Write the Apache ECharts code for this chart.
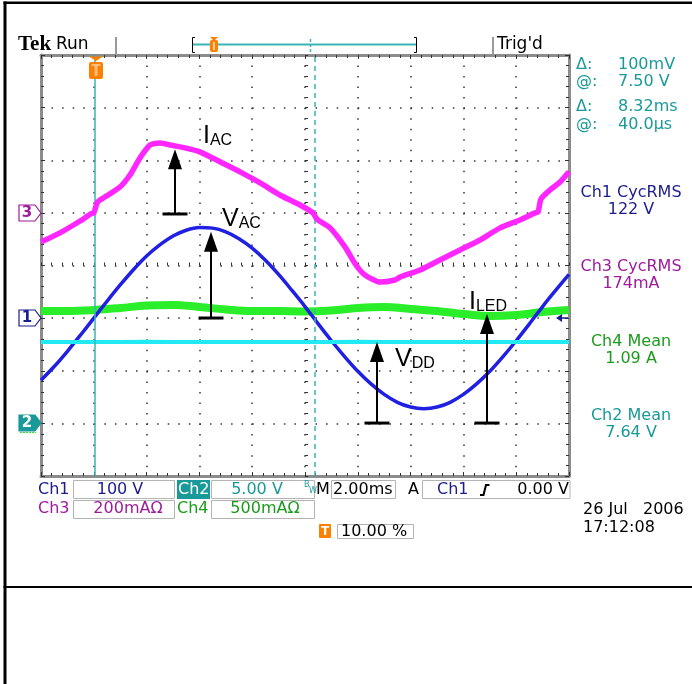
<!DOCTYPE html>
<html><head><meta charset="utf-8">
<script src="https://cdn.jsdelivr.net/npm/echarts@6/dist/echarts.min.js"></script>
<style>html,body{margin:0;padding:0;background:#fff}#c{width:692px;height:684px}</style>
</head><body><div id="c"></div>
<script>
// ---------- data (time in ms relative to trigger) ----------
const vacTime = [-2,-1.5,-1,-0.5,0,0.5,1,1.5,2,2.5,3,3.5,4,4.5,5,5.5,6,6.5,7,7.5,8,8.5,9,9.5,10,10.5,11,11.5,12,12.5,13,13.5,14,14.5,15,15.5,16,16.5,17,17.5,18];
const vacVolts = [-118,-92,-63,-32,0,32,63,92,118,139,156,167,172,171,164,151,133,110,83,53,22,-11,-43,-73,-101,-125,-145,-160,-169,-172,-169,-160,-145,-125,-101,-73,-43,-11,22,53,83];

const iacTime = [-2.00,-1.28,-0.52,-0.10,0.00,0.15,0.54,0.99,1.37,1.75,2.13,2.51,2.89,3.45,4.02,4.78,5.54,6.30,7.05,7.81,8.30,8.42,8.49,8.95,9.52,9.93,10.27,10.84,11.41,11.60,12.36,13.11,13.87,14.63,15.39,16.14,16.71,16.83,16.94,17.28,17.66,18.00];
const iacMilliamps = [-111,-76,-31,-3,0,42,68,98,144,209,258,266,258,247,232,194,156,114,68,30,0,-19,-27,-57,-130,-198,-236,-263,-255,-244,-217,-179,-141,-103,-57,-27,0,4,53,87,117,156];

const dcTime = [-2,-1,0,1,2,3,4,5,6,7,8,9,10,11,12,13,14,15,16,17,18];
const iledAmps = [1.068,1.068,1.077,1.096,1.120,1.125,1.106,1.082,1.068,1.068,1.063,1.072,1.096,1.106,1.087,1.068,1.039,1.020,1.030,1.058,1.077];
const vddVolts = [7.72,7.74,7.73,7.72,7.75,7.73,7.72,7.74,7.73,7.72,7.74,7.73,7.75,7.72,7.73,7.74,7.72,7.73,7.74,7.73,7.72];

const cursorTimes = [0.04, 8.36];

// channel settings: units per division, ground position (divisions from screen centre)
const ch1Scale = 100, ch1Pos = -1;   // V/div
const ch2Scale = 5,   ch2Pos = -3;   // V/div
const ch3Scale = 200, ch3Pos = 1;    // mA/div
const ch4Scale = 0.5, ch4Pos = -3;   // A/div

// annotation arrows (time ms, screen divisions)
const annTime   = [3.076, 4.439, 10.727, 14.894];
const annBase   = [0.979, -0.998, -2.994, -2.994];
const annTip    = [2.21, 0.643, -1.454, -0.922];
const annMain   = ['I','V','V','I'];
const annSub    = ['AC','AC','DD','LED'];
const annLabelT = [4.136, 4.856, 11.41, 14.21];
const annLabelY = [2.319, 0.732, -1.93, -0.846];

// ---------- build ----------
const toDiv = (times, vals, scale, pos) => times.map((t,i)=>[t, vals[i]/scale + pos]);

const NAVY='#1c1c8e', PURPLE='#9c1c9c', GREEN='#1c9c1c', TEAL='#1a9999', ORANGE='#ff7f00';
const F = 'DejaVu Sans';

function txt(x,y,text,color,o){
  o=o||{};
  return {type:'text', x:x, y:y, z:50, style:{text:text, fill:color, font:(o.weight||'normal')+' '+(o.size||16)+'px '+(o.family?('"'+o.family+'"'):('"'+F+'"')), textAlign:o.align||'left', textVerticalAlign:'middle', verticalAlign:'middle'}};
}
function box(x,y,w,h){ return {type:'rect', z:40, shape:{x:x,y:y,width:w,height:h}, style:{fill:'none', stroke:'#b4b4b4', lineWidth:1}}; }
function rect(x,y,w,h,fill,r){ return {type:'rect', z:40, shape:{x:x,y:y,width:w,height:h,r:r||0}, style:{fill:fill}}; }
function chMarker(y,label,color,filled){
  return [
    {type:'polygon', z:45, shape:{points:[[19,y-8],[35,y-8],[41,y],[35,y+8],[19,y+8]]}, style:{fill:filled?color:'#fff', stroke:color, lineWidth:1.2}},
    txt(27,y+0.5,label,filled?'#fff':color,{size:15,weight:'bold',align:'center'})
  ];
}

const graphics = [
  // outer frame
  rect(3.5,1.5,3,683,'#000'), rect(3.5,1.5,689,2.5,'#000'), rect(3.5,586,689,2,'#000'),
  // header
  txt(18,45,'Tek','#000',{size:21,weight:'bold',family:'Liberation Serif'}),
  txt(56,45,'Run','#000',{size:17}),
  rect(115,37,2,18,'#9a9a9a'), rect(492,37,2,18,'#9a9a9a'),
  {type:'polyline', z:40, shape:{points:[[195,37.5],[192.5,37.5],[192.5,52.5],[195,52.5]]}, style:{stroke:'#000',lineWidth:1,fill:'none'}},
  {type:'polyline', z:40, shape:{points:[[414,37.5],[416.5,37.5],[416.5,52.5],[414,52.5]]}, style:{stroke:'#000',lineWidth:1,fill:'none'}},
  {type:'line', z:40, shape:{x1:193,y1:44.5,x2:416,y2:44.5}, style:{stroke:'#3ab5b5',lineWidth:2}},
  {type:'line', z:41, shape:{x1:310.5,y1:39,x2:310.5,y2:53}, style:{stroke:'#3ab5b5',lineWidth:1.5,lineDash:[3,2]}},
  {type:'polygon', z:42, shape:{points:[[210,37],[218,37],[214,41]]}, style:{fill:ORANGE}},
  rect(210,40,8,12,ORANGE,2), rect(213,42,2,8,'#ffd0a0'),
  txt(497,45,"Trig'd",'#000',{size:17}),
  // trigger marker on graticule
  {type:'polygon', z:45, shape:{points:[[89,56.5],[103,56.5],[96,61]]}, style:{fill:ORANGE}},
  rect(89,62,14,17,ORANGE,2), rect(91.5,64,9,2,'#ffc080'), rect(94.5,64,3,12,'#ffc080'),
  // channel markers
  ...chMarker(213,'3',PURPLE,false), ...chMarker(318,'1',NAVY,false),
  {type:'line', z:44, shape:{x1:20,y1:432.5,x2:36,y2:432.5}, style:{stroke:'#33dd33',lineWidth:1,lineDash:[2,1]}},
  ...chMarker(423,'2',TEAL,true),
  // trigger level arrow (right)
  {type:'polygon', z:45, shape:{points:[[556,318],[562,314],[562,322]]}, style:{fill:NAVY}},
  {type:'line', z:45, shape:{x1:561,y1:318,x2:568,y2:318}, style:{stroke:NAVY,lineWidth:1.5}},
  // cursor readouts
  txt(576,65,'Δ:',TEAL), txt(618,65,'100mV',TEAL),
  txt(576,82,'@:',TEAL), txt(618,82,'7.50 V',TEAL),
  txt(576,107,'Δ:',TEAL), txt(618,107,'8.32ms',TEAL),
  txt(576,125,'@:',TEAL), txt(618,125,'40.0µs',TEAL),
  // measurements
  txt(631,193,'Ch1 CycRMS',NAVY,{align:'center'}), txt(631,210,'122 V',NAVY,{align:'center'}),
  txt(631,267,'Ch3 CycRMS',PURPLE,{align:'center'}), txt(631,284,'174mA',PURPLE,{align:'center'}),
  txt(631,342,'Ch4 Mean',GREEN,{align:'center'}), txt(631,359,'1.09 A',GREEN,{align:'center'}),
  txt(631,416,'Ch2 Mean',TEAL,{align:'center'}), txt(631,433,'7.64 V',TEAL,{align:'center'}),
  // status row 1
  txt(38,490,'Ch1',NAVY), box(73.5,480.5,101,18), txt(120,490,'100 V',NAVY,{align:'center'}),
  rect(177,480,33,19,TEAL), txt(178,490,'Ch2','#fff'),
  box(211.5,480.5,103,18), txt(257,490,'5.00 V',TEAL,{align:'center'}),
  txt(304,485,'B',TEAL,{size:8}), txt(309,491,'W',TEAL,{size:8}),
  txt(316,490,'M','#000'), box(331.5,480.5,64,18), txt(333,490,'2.00ms','#000'),
  txt(408,490,'A','#000'), box(422.5,480.5,147.5,18), txt(437,490,'Ch1',NAVY),
  {type:'polyline', z:45, shape:{points:[[480,495],[483.5,495],[486,485],[489.5,485]]}, style:{stroke:'#000',lineWidth:2,fill:'none'}},
  txt(569,490,'0.00 V','#000',{align:'right'}),
  // status row 2
  txt(38,509,'Ch3',PURPLE), box(73.5,500.5,101,18), txt(128,509,'200mAΩ',PURPLE,{align:'center'}),
  txt(177,509,'Ch4',GREEN), box(211.5,500.5,103,18), txt(265,509,'500mAΩ',GREEN,{align:'center'}),
  // status row 3
  rect(319,524,12,14,ORANGE,1), txt(325,531.5,'T','#fff',{size:12,weight:'bold',align:'center'}),
  box(337.5,524.5,76,14), txt(341,531.5,'10.00 %','#000'),
  // date
  txt(583,510,'26 Jul   2006','#000'), txt(583,528,'17:12:08','#000')
];

const dotV = [1.5, 9.03], dotH = [1.5, 9.06];
const baseX = {type:'value', min:-2, max:18, interval:2, axisLabel:{show:false}};
const baseY = {type:'value', min:-4, max:4, interval:1, axisLabel:{show:false}};
const borderLine = {show:true, onZero:false, lineStyle:{color:'#8c8c8c', width:3}};
const tick = {show:true, inside:true, length:4, lineStyle:{color:'#333', width:1}};
const minor = {show:true, splitNumber:5, length:3, lineStyle:{color:'#333', width:1}};

const option = {
  animation:false,
  backgroundColor:'#fff',
  grid:{left:41, top:55, width:528, height:421, containLabel:false, outerBoundsMode:'none'},
  xAxis:[
    Object.assign({}, baseX, {position:'bottom', axisLine:borderLine, axisTick:tick, minorTick:minor,
      splitLine:{show:true, lineStyle:{color:'#333', width:1.5, type:dotV}}}),
    Object.assign({}, baseX, {position:'top', axisLine:borderLine, axisTick:tick, minorTick:minor, splitLine:{show:false}}),
    Object.assign({}, baseX, {position:'bottom', offset:-210.5, axisLine:{show:false, onZero:false}, axisTick:{show:true, inside:true, length:3, lineStyle:{color:'#333'}}, minorTick:{show:true, splitNumber:5, length:3, lineStyle:{color:'#333'}}, splitLine:{show:false}})
  ],
  yAxis:[
    Object.assign({}, baseY, {position:'left', axisLine:borderLine, axisTick:tick, minorTick:minor,
      splitLine:{show:true, lineStyle:{color:'#333', width:1.5, type:dotH}}}),
    Object.assign({}, baseY, {position:'right', axisLine:borderLine, axisTick:tick, minorTick:minor, splitLine:{show:false}}),
    Object.assign({}, baseY, {position:'left', offset:-264, axisLine:{show:false, onZero:false}, axisTick:{show:true, inside:true, length:3, lineStyle:{color:'#333'}}, minorTick:{show:true, splitNumber:5, length:3, lineStyle:{color:'#333'}}, splitLine:{show:false}})
  ],
  graphic: graphics,
  series:[
    {type:'line', name:'cursors', data:[], z:1, silent:true,
      markLine:{silent:true, symbol:['none','none'], label:{show:false},
        data:[{xAxis:cursorTimes[0], lineStyle:{type:'solid'}}, {xAxis:cursorTimes[1], lineStyle:{type:[5,4]}}],
        lineStyle:{color:'#3ab5b5', width:1.5}}},
    {type:'line', name:'ILED', data:toDiv(dcTime, iledAmps, ch4Scale, ch4Pos), showSymbol:false, smooth:0.4, z:2,
      lineStyle:{color:'#2aee2a', width:8}},
    {type:'line', name:'VAC', data:toDiv(vacTime, vacVolts, ch1Scale, ch1Pos), showSymbol:false, smooth:0.3, z:3,
      lineStyle:{color:'#2020e2', width:3.5}},
    {type:'line', name:'VDD', data:toDiv(dcTime, vddVolts, ch2Scale, ch2Pos), showSymbol:false, z:4,
      lineStyle:{color:'#22eaf4', width:4}},
    {type:'line', name:'IAC', data:toDiv(iacTime, iacMilliamps, ch3Scale, ch3Pos), showSymbol:false, smooth:0.2, z:5,
      lineStyle:{color:'#ff26ff', width:5.5}},
    {type:'custom', name:'annotations', z:10, silent:true, clip:false,
      data: annTime.map((t,i)=>[t, annBase[i]]),
      renderItem: function(params, api){
        const i = params.dataIndex;
        const b = api.coord([annTime[i], annBase[i]]);
        const tp = api.coord([annTime[i], annTip[i]]);
        const lb = api.coord([annLabelT[i], annLabelY[i]]);
        return {type:'group', children:[
          {type:'line', shape:{x1:b[0],y1:b[1],x2:tp[0],y2:tp[1]+18}, style:{stroke:'#000', lineWidth:2}},
          {type:'polygon', shape:{points:[[tp[0],tp[1]],[tp[0]-7,tp[1]+20],[tp[0]+7,tp[1]+20]]}, style:{fill:'#000'}},
          {type:'rect', shape:{x:b[0]-12.5, y:b[1]-1.5, width:25, height:3}, style:{fill:'#000'}},
          {type:'text', x:lb[0], y:lb[1]+5, style:{
            text:'{m|'+annMain[i]+'}{s|'+annSub[i]+'}', align:'left', verticalAlign:'bottom',
            rich:{m:{fontSize:25, fontFamily:'Liberation Sans', fill:'#000', verticalAlign:'bottom', lineHeight:30},
                  s:{fontSize:16, fontFamily:'Liberation Sans', fill:'#000', verticalAlign:'bottom', lineHeight:24}}}}
        ]};
      }}
  ]
};
const chart = echarts.init(document.getElementById('c'), null, {renderer:'canvas'});
chart.setOption(option);
</script></body></html>
